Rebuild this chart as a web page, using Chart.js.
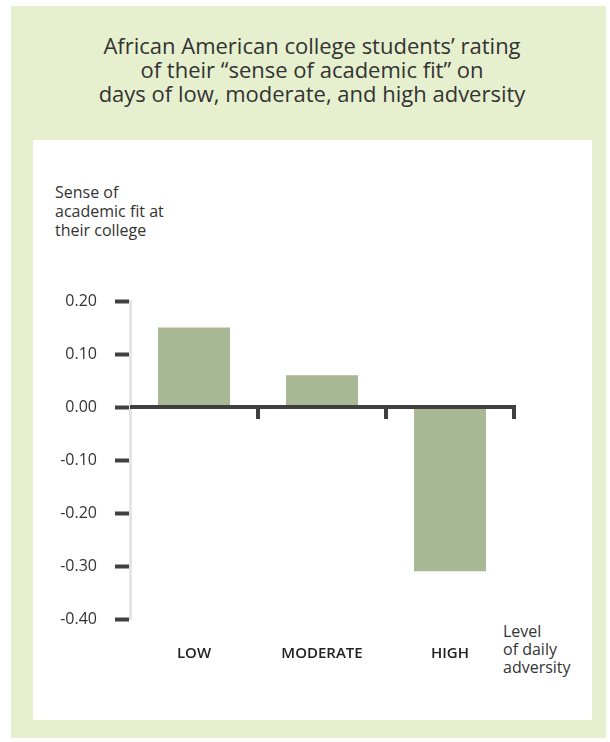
<!DOCTYPE html>
<html>
<head>
<meta charset="utf-8">
<script src="https://cdn.jsdelivr.net/npm/chart.js@4"></script>
<style>
  html, body { margin: 0; padding: 0; background: #fff; }
  body { width: 610px; height: 742px; position: relative; overflow: hidden; font-family: "Open Sans", sans-serif; color: #333; }
  .outer { position: absolute; left: 11px; top: 6px; width: 595px; height: 732px; background: #e6f0ce; }
  .panel { position: absolute; left: 33px; top: 140px; width: 559px; height: 580px; background: #fff; }
  .title { position: absolute; left: 0; width: 624px; top: 33px; text-align: center; font-size: 22px; font-weight: 500; line-height: 24px; color: #333; }
  .note { position: absolute; font-size: 16px; line-height: 19px; color: #333; }
  #chart { position: absolute; left: 0; top: 0; }
</style>
</head>
<body>
<div class="outer"></div>
<div class="panel"></div>
<div class="title">African American college students’ rating<br>of their “sense of academic fit” on<br>days of low, moderate, and high adversity</div>
<div class="note" style="left:55px; top:183px;">Sense of<br>academic fit at<br>their college</div>
<div class="note" style="left:503px; top:622px; line-height:18px;">Level<br>of daily<br>adversity</div>
<canvas id="chart" width="610" height="742"></canvas>
<script>
const categories = ['LOW', 'MODERATE', 'HIGH'];
const fitValues = [0.15, 0.06, -0.31];
const yMin = -0.4;
const yMax = 0.2;
const yStep = 0.1;

// zero line and category dividers drawn from the scales
const zeroLinePlugin = {
    id: 'zeroLine',
    afterDatasetsDraw(chart) {
        const ctx = chart.ctx;
        const x = chart.scales.x;
        const y = chart.scales.y;
        const y0 = y.getPixelForValue(0);
        const half = (x.getPixelForValue(1) - x.getPixelForValue(0)) / 2;
        ctx.save();
        ctx.strokeStyle = '#3f3f3f';
        ctx.lineWidth = 4;
        ctx.beginPath();
        ctx.moveTo(chart.chartArea.left, y0);
        ctx.lineTo(chart.chartArea.right + 2, y0);
        ctx.stroke();
        categories.forEach((c, i) => {
            const bx = x.getPixelForValue(i) + half;
            ctx.beginPath();
            ctx.moveTo(bx, y0);
            ctx.lineTo(bx, y0 + 12);
            ctx.stroke();
        });
        ctx.restore();
    }
};

new Chart(document.getElementById('chart'), {
    type: 'bar',
    data: {
        labels: categories,
        datasets: [{
            data: fitValues,
            backgroundColor: '#a9b996',
            borderWidth: 0,
            barPercentage: 0.5625,
            categoryPercentage: 1
        }]
    },
    options: {
        responsive: false,
        animation: false,
        layout: { padding: { left: 0, top: 301, right: 96, bottom: 0 } },
        plugins: { legend: { display: false }, tooltip: { enabled: false } },
        scales: {
            x: {
                grid: { display: false, drawTicks: false },
                border: { display: false },
                ticks: {
                    padding: 26,
                    color: '#222',
                    font: { family: 'Open Sans', size: 15, weight: '600' }
                },
                afterFit: s => { s.height = 123; }
            },
            y: {
                min: yMin,
                max: yMax,
                grid: { drawOnChartArea: false, tickLength: 15, tickWidth: 4, tickColor: '#404040' },
                border: { display: true, color: '#e4e4e4', width: 3 },
                ticks: {
                    stepSize: yStep,
                    padding: 18,
                    color: '#333',
                    font: { family: 'Open Sans', size: 16 },
                    callback: v => v.toFixed(2)
                },
                afterFit: s => { s.width = 130; }
            }
        }
    },
    plugins: [zeroLinePlugin]
});
</script>
</body>
</html>
